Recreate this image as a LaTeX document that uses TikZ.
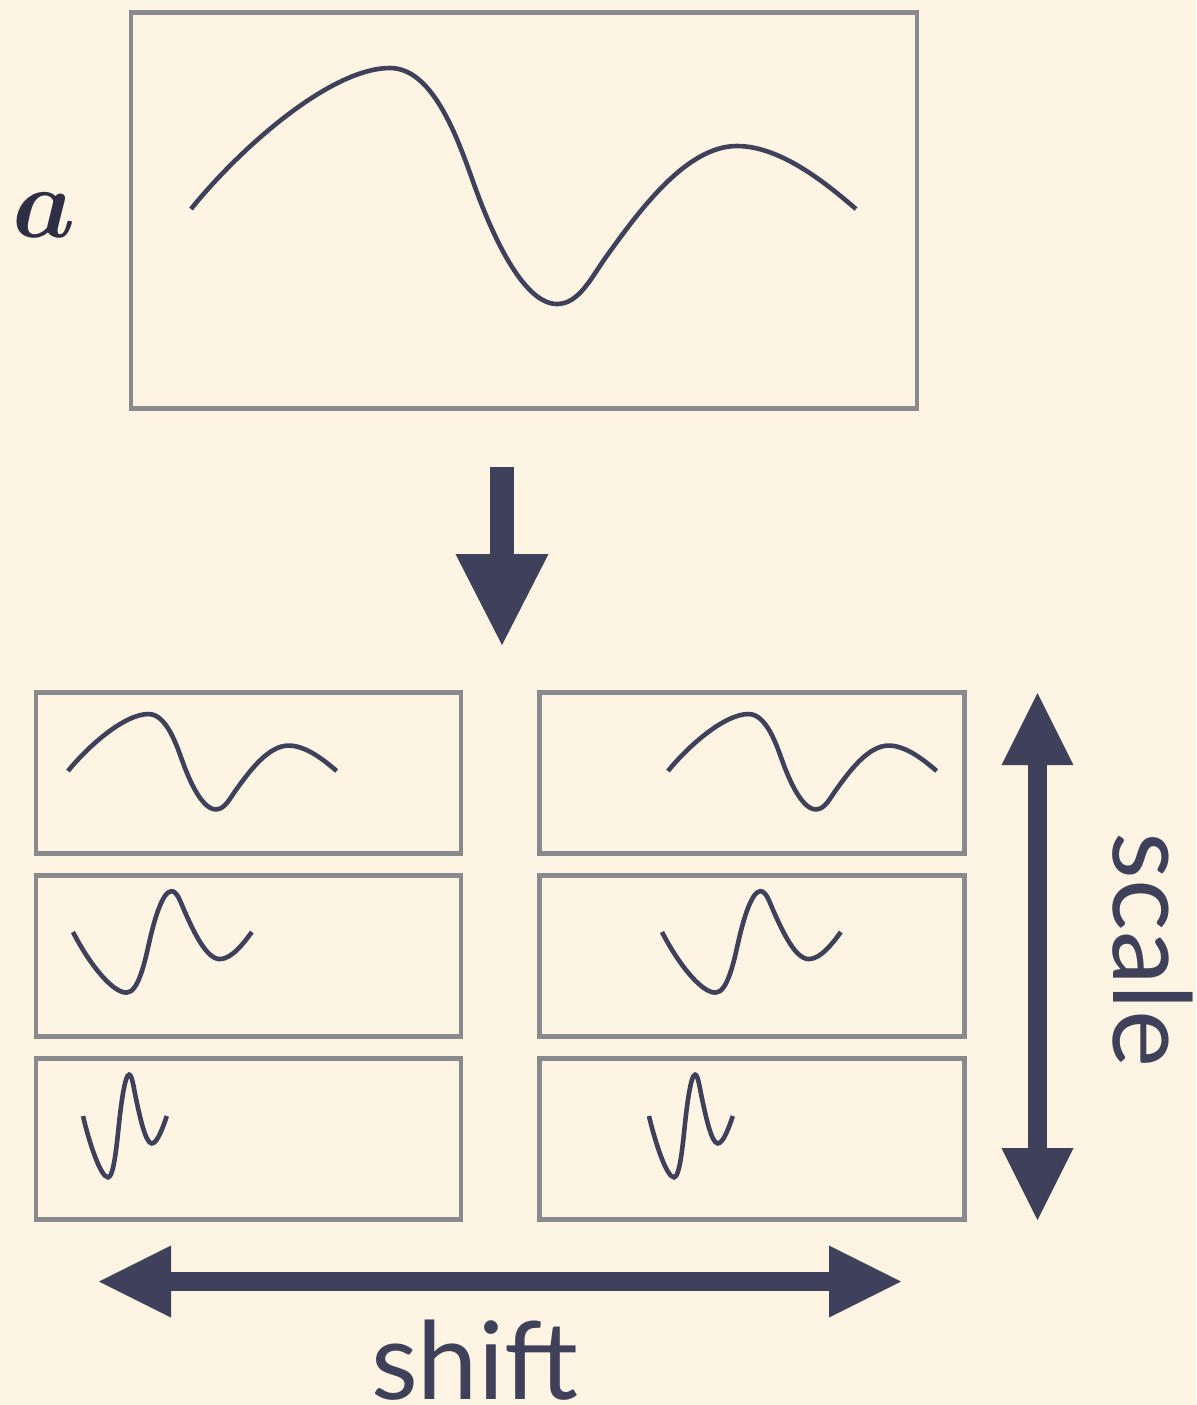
\documentclass[tikz,border=0pt]{standalone}
\usepackage{amsmath,amssymb}
\usepackage{graphicx}
\usepackage{xcolor}
\usepackage{fontspec}
\newfontfamily\labelfont{Lato}
\usetikzlibrary{arrows.meta, positioning, calc}
\definecolor{paper}{RGB}{254,244,227}
\definecolor{ink}{RGB}{63,64,89}
\definecolor{inkdark}{RGB}{46,47,68}
\definecolor{frame}{RGB}{137,138,142}
\tikzset{
  panel/.style={rectangle, draw=frame, line width=2.2pt, minimum width=212.5pt, minimum height=80.5pt, inner sep=0pt},
  bigpanel/.style={panel, minimum width=393pt, minimum height=198pt},
  wave/.style={draw=ink, line width=2.3pt},
  bigarrow/.style={draw=ink, line width=12pt, -{Triangle[length=45.5pt, width=46.5pt, line width=0pt]}},
  dblarrow/.style={draw=ink, line width=9.5pt, {Triangle[length=36pt, width=36pt, line width=0pt]}-{Triangle[length=36pt, width=36pt, line width=0pt]}},
  axislabel/.style={font=\labelfont\fontsize{54}{60}\selectfont, text=ink, inner sep=0pt, anchor=base},
}
% signal a, start of curve at origin
\newcommand{\wavepath}{(0,0) .. controls (50,-62) and (140,-141) .. (199,-141)
  .. controls (244,-141) and (268.7,-64.3) .. (284,-22)
  .. controls (299.3,20.3) and (331,95) .. (366,95)
  .. controls (388,95) and (400.5,68.25) .. (415,48)
  .. controls (449.8,-0.6) and (496,-63) .. (546,-63)
  .. controls (591,-63) and (638.4,-22.75) .. (665,0)}

\begin{document}
\begin{tikzpicture}[x=0.5pt, y=-0.5pt]
  \fill[paper] (0,0) rectangle (1196,1405);
  \useasboundingbox (0,0) rectangle (1196,1405);

  % input signal
  \node[bigpanel] (top) at (524,210.5) {};
  \draw[wave, shift={(191,209)}] \wavepath;
  \node[text=inkdark, anchor=base, inner sep=0pt] (alabel) at (44,237) {\scalebox{5}{$\boldsymbol{a}$}};

  % transform
  \coordinate (downtail) at (502,467);
  \coordinate (downtip) at (502,645);
  \draw[bigarrow] (downtail) -- (downtip);

  % shifted and scaled copies
  \foreach \r/\y in {1/772.8, 2/955.8, 3/1139} {
    \node[panel] (l\r) at (248.3,\y) {};
    \node[panel] (r\r) at (752,\y) {};
  }
  \foreach \x/\y/\sx/\sy in {68/771/0.404/0.404, 668/771/0.404/0.404,
      73/932/0.269/-0.43, 662/932/0.269/-0.43,
      83/1116/0.126/-0.435, 649/1116/0.126/-0.435} {
    \draw[wave, shift={(\x,\y)}, xscale=\sx, yscale=\sy] \wavepath;
  }

  % scale axis
  \coordinate (scaletop) at (1037.5,693);
  \coordinate (scalebot) at (1037.5,1220);
  \draw[dblarrow] (scaletop) -- (scalebot);
  \node[axislabel, rotate=-90] (scalelabel) at (1113,950) {scale};

  % shift axis
  \coordinate (shiftleft) at (99,1281.5);
  \coordinate (shiftright) at (901,1281.5);
  \draw[dblarrow] (shiftleft) -- (shiftright);
  \node[axislabel] (shiftlabel) at (474.5,1399) {shift};
\end{tikzpicture}
\end{document}
